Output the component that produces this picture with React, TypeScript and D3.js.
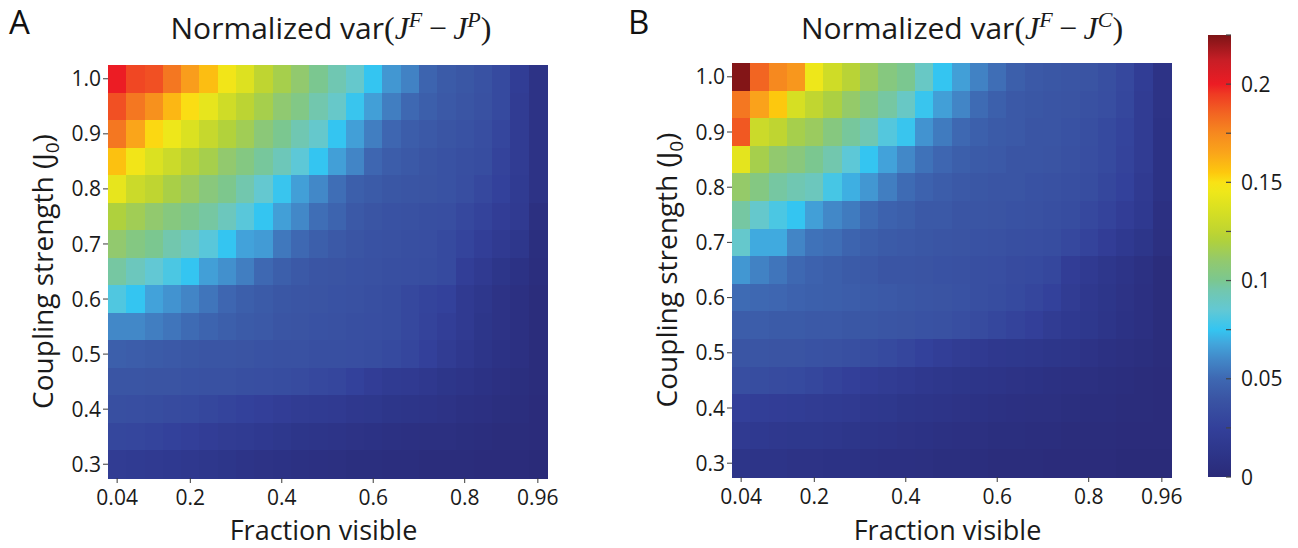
import React from "react";
import * as d3 from "d3";

// ---------- data ----------
const fractionVisible = [0.04, 0.08, 0.12, 0.16, 0.2, 0.24, 0.28, 0.32, 0.36, 0.4, 0.44, 0.48, 0.52, 0.56, 0.6, 0.64, 0.68, 0.72, 0.76, 0.8, 0.84, 0.88, 0.92, 0.96];
const couplingStrength = [1.0, 0.95, 0.9, 0.85, 0.8, 0.75, 0.7, 0.65, 0.6, 0.55, 0.5, 0.45, 0.4, 0.35, 0.3];

const xTickValues = [0.04, 0.2, 0.4, 0.6, 0.8, 0.96];
const xTickLabels = ["0.04", "0.2", "0.4", "0.6", "0.8", "0.96"];
const yTickValues = [1.0, 0.9, 0.8, 0.7, 0.6, 0.5, 0.4, 0.3];
const yTickLabels = ["1.0", "0.9", "0.8", "0.7", "0.6", "0.5", "0.4", "0.3"];
const cbTickValues = [0, 0.025, 0.05, 0.075, 0.1, 0.125, 0.15, 0.175, 0.2, 0.225];
const cbLabelValues = [0, 0.05, 0.1, 0.15, 0.2];
const cbLabels = ["0", "0.05", "0.1", "0.15", "0.2"];
const colorMax = 0.225;

// colormap stops (value -> colour)
const cmapValues = [0, 0.012, 0.025, 0.04, 0.05, 0.06, 0.068, 0.075, 0.085, 0.095, 0.1, 0.11, 0.12, 0.125, 0.135, 0.145, 0.15, 0.155, 0.165, 0.175, 0.185, 0.195, 0.2, 0.212, 0.225];
const cmapColors = ["#2a2a78", "#2d3589", "#33409a", "#3a55a4", "#3e68b2", "#4288c8", "#42a6dc", "#34c5f1", "#62c8d4", "#72c7ae", "#7bc790", "#92c96e", "#afd13d", "#bfd531", "#d6df23", "#eee71a", "#f9e215", "#fdc80e", "#faa51a", "#f6891f", "#f26522", "#ef3a23", "#ec1c24", "#c81e26", "#7d1416"];

// Panel A: Normalized var(J^F - J^P), rows from J0 = 1.0 (top) to 0.3 (bottom)
const varFP = [
  [0.2, 0.192, 0.19, 0.18, 0.168, 0.158, 0.147, 0.138, 0.125, 0.117, 0.11, 0.1, 0.094, 0.087, 0.075, 0.064, 0.058, 0.048, 0.043, 0.041, 0.038, 0.032, 0.021, 0.01],
  [0.19, 0.18, 0.172, 0.16, 0.151, 0.142, 0.132, 0.124, 0.117, 0.109, 0.103, 0.095, 0.088, 0.076, 0.066, 0.057, 0.05, 0.045, 0.042, 0.04, 0.037, 0.032, 0.02, 0.01],
  [0.18, 0.165, 0.152, 0.145, 0.137, 0.128, 0.121, 0.115, 0.107, 0.1, 0.094, 0.087, 0.075, 0.066, 0.057, 0.049, 0.044, 0.042, 0.04, 0.038, 0.035, 0.029, 0.02, 0.01],
  [0.157, 0.147, 0.137, 0.13, 0.123, 0.117, 0.11, 0.104, 0.098, 0.092, 0.084, 0.075, 0.066, 0.059, 0.049, 0.044, 0.042, 0.04, 0.038, 0.036, 0.034, 0.027, 0.02, 0.01],
  [0.142, 0.13, 0.125, 0.118, 0.113, 0.106, 0.101, 0.095, 0.086, 0.076, 0.066, 0.06, 0.052, 0.045, 0.043, 0.041, 0.04, 0.039, 0.038, 0.035, 0.031, 0.026, 0.019, 0.01],
  [0.12, 0.115, 0.11, 0.105, 0.101, 0.097, 0.091, 0.083, 0.075, 0.066, 0.06, 0.052, 0.048, 0.042, 0.04, 0.038, 0.037, 0.036, 0.035, 0.031, 0.027, 0.022, 0.018, 0.006],
  [0.11, 0.104, 0.1, 0.095, 0.09, 0.083, 0.075, 0.067, 0.065, 0.055, 0.05, 0.045, 0.042, 0.04, 0.038, 0.037, 0.036, 0.035, 0.032, 0.028, 0.023, 0.018, 0.014, 0.005],
  [0.097, 0.091, 0.085, 0.08, 0.075, 0.066, 0.062, 0.057, 0.05, 0.045, 0.042, 0.04, 0.039, 0.038, 0.037, 0.036, 0.035, 0.034, 0.032, 0.023, 0.018, 0.013, 0.009, 0.004],
  [0.081, 0.075, 0.067, 0.063, 0.059, 0.054, 0.049, 0.045, 0.043, 0.041, 0.04, 0.039, 0.038, 0.037, 0.036, 0.034, 0.031, 0.028, 0.026, 0.018, 0.014, 0.01, 0.007, 0.003],
  [0.06, 0.06, 0.057, 0.054, 0.051, 0.048, 0.045, 0.043, 0.042, 0.04, 0.039, 0.038, 0.037, 0.036, 0.035, 0.034, 0.031, 0.027, 0.023, 0.018, 0.013, 0.01, 0.007, 0.003],
  [0.045, 0.044, 0.043, 0.042, 0.041, 0.04, 0.04, 0.039, 0.038, 0.037, 0.037, 0.036, 0.036, 0.035, 0.034, 0.032, 0.029, 0.025, 0.02, 0.016, 0.012, 0.009, 0.007, 0.003],
  [0.04, 0.04, 0.039, 0.039, 0.038, 0.037, 0.037, 0.036, 0.035, 0.034, 0.033, 0.031, 0.029, 0.026, 0.022, 0.019, 0.018, 0.016, 0.013, 0.011, 0.009, 0.007, 0.005, 0.003],
  [0.036, 0.035, 0.034, 0.033, 0.032, 0.03, 0.028, 0.026, 0.024, 0.022, 0.02, 0.019, 0.018, 0.016, 0.015, 0.013, 0.012, 0.011, 0.01, 0.008, 0.007, 0.005, 0.004, 0.002],
  [0.03, 0.029, 0.028, 0.026, 0.024, 0.022, 0.02, 0.019, 0.017, 0.015, 0.013, 0.012, 0.011, 0.01, 0.009, 0.008, 0.007, 0.006, 0.006, 0.005, 0.004, 0.003, 0.003, 0.002],
  [0.02, 0.019, 0.018, 0.017, 0.016, 0.014, 0.013, 0.011, 0.01, 0.009, 0.008, 0.007, 0.006, 0.005, 0.005, 0.004, 0.004, 0.003, 0.003, 0.003, 0.002, 0.002, 0.002, 0.001],
];

// Panel B: Normalized var(J^F - J^C)
const varFC = [
  [0.224, 0.185, 0.175, 0.17, 0.145, 0.132, 0.123, 0.113, 0.105, 0.1, 0.089, 0.075, 0.066, 0.058, 0.052, 0.045, 0.042, 0.041, 0.04, 0.039, 0.036, 0.031, 0.021, 0.01],
  [0.18, 0.166, 0.155, 0.135, 0.126, 0.119, 0.111, 0.104, 0.097, 0.089, 0.076, 0.066, 0.059, 0.051, 0.046, 0.042, 0.041, 0.04, 0.039, 0.037, 0.035, 0.03, 0.02, 0.01],
  [0.188, 0.13, 0.125, 0.117, 0.113, 0.105, 0.098, 0.094, 0.082, 0.076, 0.063, 0.056, 0.05, 0.046, 0.043, 0.042, 0.04, 0.04, 0.038, 0.036, 0.032, 0.028, 0.02, 0.009],
  [0.141, 0.117, 0.11, 0.106, 0.1, 0.095, 0.084, 0.075, 0.067, 0.06, 0.053, 0.049, 0.045, 0.043, 0.042, 0.04, 0.04, 0.039, 0.037, 0.035, 0.032, 0.027, 0.02, 0.009],
  [0.111, 0.104, 0.097, 0.094, 0.091, 0.079, 0.07, 0.064, 0.057, 0.051, 0.047, 0.044, 0.042, 0.041, 0.04, 0.04, 0.038, 0.037, 0.036, 0.034, 0.03, 0.026, 0.018, 0.009],
  [0.097, 0.087, 0.08, 0.075, 0.066, 0.06, 0.056, 0.051, 0.047, 0.045, 0.042, 0.042, 0.04, 0.04, 0.039, 0.038, 0.037, 0.036, 0.034, 0.031, 0.027, 0.022, 0.017, 0.007],
  [0.087, 0.069, 0.069, 0.059, 0.053, 0.052, 0.048, 0.045, 0.043, 0.042, 0.041, 0.04, 0.039, 0.038, 0.037, 0.036, 0.035, 0.034, 0.031, 0.027, 0.022, 0.017, 0.013, 0.006],
  [0.064, 0.058, 0.054, 0.05, 0.047, 0.045, 0.043, 0.042, 0.04, 0.04, 0.039, 0.038, 0.037, 0.036, 0.035, 0.033, 0.032, 0.03, 0.022, 0.018, 0.014, 0.011, 0.008, 0.003],
  [0.051, 0.05, 0.049, 0.047, 0.046, 0.045, 0.044, 0.043, 0.042, 0.041, 0.04, 0.039, 0.038, 0.036, 0.034, 0.032, 0.029, 0.026, 0.02, 0.016, 0.013, 0.01, 0.007, 0.003],
  [0.044, 0.044, 0.043, 0.043, 0.042, 0.042, 0.041, 0.041, 0.04, 0.039, 0.038, 0.037, 0.035, 0.033, 0.03, 0.027, 0.024, 0.02, 0.017, 0.015, 0.012, 0.009, 0.007, 0.003],
  [0.04, 0.04, 0.039, 0.039, 0.038, 0.037, 0.036, 0.034, 0.032, 0.029, 0.026, 0.023, 0.02, 0.018, 0.016, 0.015, 0.014, 0.013, 0.012, 0.01, 0.008, 0.006, 0.005, 0.003],
  [0.035, 0.034, 0.033, 0.032, 0.03, 0.027, 0.024, 0.022, 0.02, 0.018, 0.016, 0.014, 0.013, 0.012, 0.011, 0.01, 0.009, 0.008, 0.007, 0.006, 0.005, 0.004, 0.003, 0.002],
  [0.024, 0.023, 0.022, 0.021, 0.02, 0.019, 0.018, 0.016, 0.015, 0.013, 0.012, 0.011, 0.01, 0.009, 0.008, 0.007, 0.006, 0.006, 0.005, 0.004, 0.004, 0.003, 0.003, 0.002],
  [0.018, 0.017, 0.016, 0.015, 0.015, 0.014, 0.013, 0.012, 0.011, 0.01, 0.009, 0.008, 0.007, 0.006, 0.005, 0.005, 0.004, 0.004, 0.003, 0.003, 0.003, 0.002, 0.002, 0.002],
  [0.012, 0.011, 0.011, 0.01, 0.01, 0.009, 0.009, 0.008, 0.007, 0.007, 0.006, 0.005, 0.005, 0.004, 0.003, 0.003, 0.003, 0.002, 0.002, 0.002, 0.002, 0.001, 0.001, 0.001],
];

// ---------- styles ----------
const SANS = "'Open Sans', 'Noto Sans', sans-serif";
const SERIF = "'Liberation Serif', 'DejaVu Serif', serif";
const TICK_COLOR = "#3a3a3a";

const color = d3
  .scaleLinear<string>()
  .domain(cmapValues)
  .range(cmapColors)
  .interpolate(d3.interpolateRgb)
  .clamp(true);

type PanelProps = {
  letter: string;
  sup2: string;
  data: number[][];
  left: number;
  right: number;
  top: number;
  bottom: number;
  titleX: number;
  letterX: number;
  yLabelX: number;
};

function Panel({ letter, sup2, data, left, right, top, bottom, titleX, letterX, yLabelX }: PanelProps) {
  const x = d3.scaleBand<number>().domain(fractionVisible).range([left, right]).padding(0);
  const y = d3.scaleBand<number>().domain(couplingStrength).range([top, bottom]).padding(0);
  const bw = x.bandwidth();
  const bh = y.bandwidth();
  const cx = (left + right) / 2;
  const cy = (top + bottom) / 2;
  const mathSize = 32;
  const supSize = 22;
  return (
    <g>
      <text x={letterX} y={34} fontFamily={SANS} fontSize={33} fill="#111">
        {letter}
      </text>
      <text x={titleX} y={39} textAnchor="middle" fontFamily={SANS} fontSize={30} fill="#1a1a1a">
        <tspan>Normalized var</tspan>
        <tspan fontFamily={SERIF} fontSize={mathSize}>(</tspan>
        <tspan fontFamily={SERIF} fontStyle="italic" fontSize={mathSize}>J</tspan>
        <tspan fontFamily={SERIF} fontStyle="italic" fontSize={supSize} dy={-12}>F</tspan>
        <tspan fontFamily={SERIF} fontSize={mathSize} dy={12}>{"\u2009\u2212\u2009"}</tspan>
        <tspan fontFamily={SERIF} fontStyle="italic" fontSize={mathSize}>J</tspan>
        <tspan fontFamily={SERIF} fontStyle="italic" fontSize={supSize} dy={-12}>{sup2}</tspan>
        <tspan fontFamily={SERIF} fontSize={mathSize} dy={12}>)</tspan>
      </text>
      <g shapeRendering="crispEdges">
        {data.map((row, i) =>
          row.map((v, j) => (
            <rect
              key={`${i}-${j}`}
              x={x(fractionVisible[j])!}
              y={y(couplingStrength[i])!}
              width={bw + 0.6}
              height={bh + 0.6}
              fill={color(v)}
            />
          ))
        )}
      </g>
      {/* y axis ticks */}
      {yTickValues.map((v, k) => {
        const yy = y(v)! + bh / 2;
        return (
          <g key={`yt${k}`}>
            <line x1={left - 5} x2={left} y1={yy} y2={yy} stroke={TICK_COLOR} strokeWidth={1} />
            <text x={left - 7} y={yy} dy="0.36em" textAnchor="end" fontFamily={SANS} fontSize={21} fill="#1a1a1a">
              {yTickLabels[k]}
            </text>
          </g>
        );
      })}
      {/* x axis ticks */}
      {xTickValues.map((v, k) => {
        const xx = x(v)! + bw / 2;
        return (
          <g key={`xt${k}`}>
            <line x1={xx} x2={xx} y1={bottom} y2={bottom + 5} stroke={TICK_COLOR} strokeWidth={1} />
            <text x={xx} y={bottom + 27} textAnchor="middle" fontFamily={SANS} fontSize={21} fill="#1a1a1a">
              {xTickLabels[k]}
            </text>
          </g>
        );
      })}
      <text x={cx - 4} y={540} textAnchor="middle" fontFamily={SANS} fontSize={27} fill="#1a1a1a">
        Fraction visible
      </text>
      <text
        transform={`translate(${yLabelX},${cy}) rotate(-90)`}
        textAnchor="middle"
        fontFamily={SANS}
        fontSize={28}
        fill="#1a1a1a"
      >
        <tspan>Coupling strength (J</tspan>
        <tspan fontSize={19} dy={6}>0</tspan>
        <tspan dy={-6}>)</tspan>
      </text>
    </g>
  );
}

function Colorbar({ left, top, width, height }: { left: number; top: number; width: number; height: number }) {
  const s = d3.scaleLinear().domain([0, colorMax]).range([top + height, top]);
  return (
    <g>
      <defs>
        <linearGradient id="cbgrad" x1="0" y1="1" x2="0" y2="0">
          {cmapValues.map((v, i) => (
            <stop key={i} offset={v / colorMax} stopColor={cmapColors[i]} />
          ))}
        </linearGradient>
      </defs>
      <rect x={left} y={top} width={width} height={height} fill="url(#cbgrad)" />
      {cbTickValues.map((v, i) => (
        <line
          key={`cbt${i}`}
          x1={left + width - 5}
          x2={left + width}
          y1={s(v)}
          y2={s(v)}
          stroke="#444"
          strokeWidth={1.2}
        />
      ))}
      {cbLabelValues.map((v, i) => (
        <text
          key={`cbl${i}`}
          x={left + width + 10}
          y={s(v)}
          dy="0.36em"
          fontFamily={SANS}
          fontSize={21}
          fill="#1a1a1a"
        >
          {cbLabels[i]}
        </text>
      ))}
    </g>
  );
}

export default function App() {
  return (
    <svg
      width={1298}
      height={548}
      viewBox="0 0 1298 548"
      style={{ position: "absolute", left: 0, top: 0, background: "#fff" }}
    >
      <rect x={0} y={0} width={1298} height={548} fill="#fff" />
      <Panel
        letter="A"
        sup2="P"
        data={varFP}
        left={108}
        right={547}
        top={65}
        bottom={478}
        titleX={331}
        letterX={9}
        yLabelX={53}
      />
      <Panel
        letter="B"
        sup2="C"
        data={varFC}
        left={732}
        right={1171}
        top={63}
        bottom={477}
        titleX={962}
        letterX={628}
        yLabelX={677}
      />
      <Colorbar left={1208} top={35} width={23} height={442} />
    </svg>
  );
}
